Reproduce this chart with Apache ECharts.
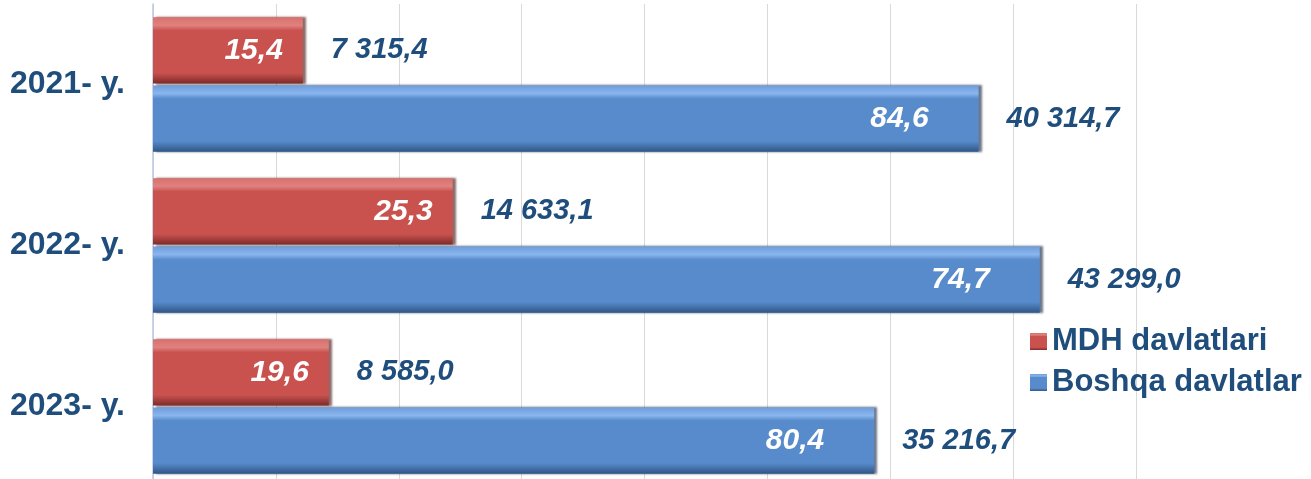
<!DOCTYPE html>
<html>
<head>
<meta charset="utf-8">
<script src="https://cdn.jsdelivr.net/npm/echarts@6/dist/echarts.min.js"></script>
<style>
  html, body { margin: 0; padding: 0; background: #fff; overflow: hidden; }
  /* the reference cuts the plot off a few px before its bottom edge */
  #chart { width: 1311px; height: 487px; }
</style>
</head>
<body>
<div id="chart"></div>
<script>
// data
const years = ['2021- y.', '2022- y.', '2023- y.']
const seriesNames = ['MDH davlatlari', 'Boshqa davlatlar']
const mdhValues = [7315.4, 14633.1, 8585.0]
const otherValues = [40314.7, 43299.0, 35216.7]
const mdhShare = [15.4, 25.3, 19.6]
const otherShare = [84.6, 74.7, 80.4]

const textBlue = '#1F4E7D'

// 7315.4 -> "7 315,4"
function fmt(v) {
    const parts = v.toFixed(1).split('.')
    const whole = parts[0].replace(/\B(?=(\d{3})+(?!\d))/g, ' ')
    return whole + ',' + parts[1]
}

function bevel(top, light, main, dark) {
    return new echarts.graphic.LinearGradient(0, 0, 0, 1, [
        {offset: 0, color: top},
        {offset: 0.12, color: light},
        {offset: 0.2, color: main},
        {offset: 0.84, color: main},
        {offset: 1, color: dark}
    ])
}

const redFill = bevel('#d8706d', '#e0827f', '#c9524f', '#7e2b29')
const blueFill = bevel('#6f9ddb', '#8ab6ee', '#588bcb', '#2f5686')

let myChart = echarts.init(document.getElementById('chart'))

const pctLabel = function (distance) {
    return {
        show: true,
        position: 'insideRight',
        distance: distance,
        color: '#fff',
        fontFamily: 'Liberation Sans',
        fontWeight: 'bold',
        fontStyle: 'italic',
        fontSize: 30
    }
}

const absLabel = {
    show: true,
    position: 'right',
    distance: 28,
    color: textBlue,
    fontFamily: 'Liberation Sans',
    fontWeight: 'bold',
    fontStyle: 'italic',
    fontSize: 29,
    formatter: function (p) { return fmt(p.value) }
}

myChart.setOption({
    animation: false,
    legend: {
        data: seriesNames,
        orient: 'vertical',
        left: 1025,
        top: 321,
        itemWidth: 17,
        itemHeight: 17,
        itemGap: 10,
        icon: 'rect',
        textStyle: {
            color: textBlue,
            fontFamily: 'Liberation Sans',
            fontWeight: 'bold',
            fontSize: 31
        }
    },
    grid: {
        left: 153,
        right: 175,
        top: 4,
        bottom: 0
    },
    xAxis: {
        type: 'value',
        min: 0,
        max: 48000,
        interval: 6000,
        axisLabel: {show: false},
        axisLine: {show: false},
        axisTick: {show: false},
        splitLine: {lineStyle: {color: '#d9d9d9', width: 1}}
    },
    yAxis: [
        {
            type: 'category',
            data: years,
            inverse: true,
            axisTick: {show: false},
            axisLine: {lineStyle: {color: '#b9c9e0', width: 1.5}},
            axisLabel: {
                margin: 28,
                padding: [6, 0, 0, 0],
                color: textBlue,
                fontFamily: 'Liberation Sans',
                fontWeight: 'bold',
                fontSize: 32
            }
        },
        {
            // hidden twin axis, only carries the value labels
            type: 'category',
            data: years,
            inverse: true,
            show: false
        }
    ],
    series: [
        {
            name: seriesNames[0],
            type: 'bar',
            data: mdhValues,
            barCategoryGap: '16.5%',
            barGap: '3%',
            itemStyle: {color: redFill, shadowColor: 'rgba(60,10,10,0.6)', shadowOffsetX: 3, shadowBlur: 2},
            label: Object.assign(pctLabel(20), {
                formatter: function (p) { return mdhShare[p.dataIndex].toFixed(1).replace('.', ',') }
            })
        },
        {
            name: seriesNames[1],
            type: 'bar',
            data: otherValues,
            barCategoryGap: '16.5%',
            barGap: '3%',
            itemStyle: {color: blueFill, shadowColor: 'rgba(10,30,60,0.6)', shadowOffsetX: 3, shadowBlur: 2},
            label: Object.assign(pctLabel(50), {
                formatter: function (p) { return otherShare[p.dataIndex].toFixed(1).replace('.', ',') }
            })
        },
        {
            name: 'mdhAbs',
            type: 'bar',
            yAxisIndex: 1,
            data: mdhValues,
            barCategoryGap: '16.5%',
            barGap: '3%',
            silent: true,
            itemStyle: {color: 'rgba(0,0,0,0)'},
            label: absLabel
        },
        {
            name: 'otherAbs',
            type: 'bar',
            yAxisIndex: 1,
            data: otherValues,
            barCategoryGap: '16.5%',
            barGap: '3%',
            silent: true,
            itemStyle: {color: 'rgba(0,0,0,0)'},
            label: absLabel
        }
    ]
})
</script>
</body>
</html>
